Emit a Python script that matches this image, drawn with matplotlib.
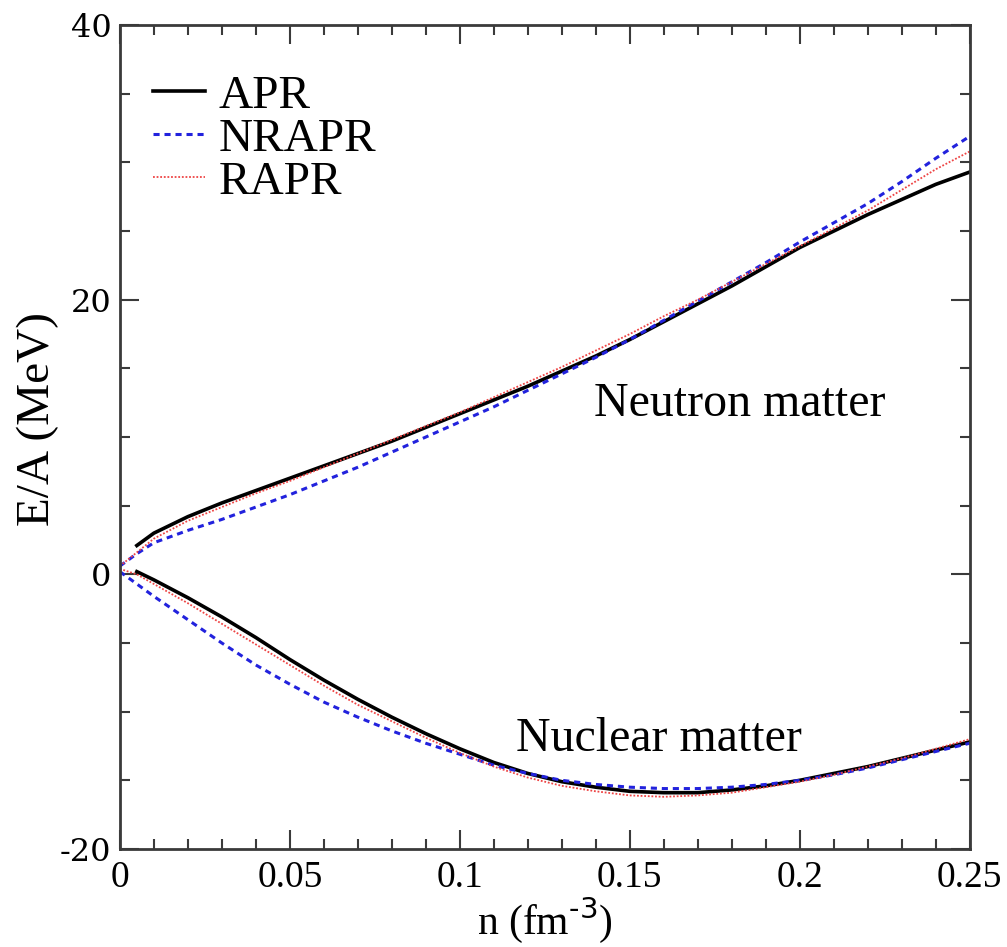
import matplotlib
matplotlib.use("Agg")
import matplotlib.pyplot as plt
from matplotlib.ticker import MultipleLocator

# ---- data ----
n_grid = [0.0, 0.005, 0.01, 0.02, 0.03, 0.04, 0.05, 0.06, 0.07, 0.08, 0.09, 0.10,
          0.11, 0.12, 0.13, 0.14, 0.15, 0.16, 0.17, 0.18, 0.19, 0.20, 0.21, 0.22,
          0.23, 0.24, 0.25]

# Neutron matter
apr_neutron = [None, 2.1, 3.0, 4.2, 5.2, 6.1, 7.0, 7.9, 8.8, 9.7, 10.7, 11.7,
               12.7, 13.7, 14.8, 15.9, 17.1, 18.4, 19.7, 21.0, 22.4, 23.8, 25.0,
               26.2, 27.3, 28.4, 29.3]
nrapr_neutron = [0.6, 1.5, 2.3, 3.2, 4.0, 4.9, 5.8, 6.8, 7.8, 8.9, 10.0, 11.1,
                 12.2, 13.4, 14.6, 15.8, 17.1, 18.5, 19.9, 21.3, 22.7, 24.2, 25.6,
                 27.0, 28.6, 30.3, 31.9]
rapr_neutron = [0.6, 1.6, 2.6, 3.9, 4.9, 5.9, 6.8, 7.8, 8.8, 9.8, 10.8, 11.8,
                12.9, 14.0, 15.1, 16.3, 17.5, 18.8, 20.0, 21.3, 22.6, 23.9, 25.2,
                26.5, 28.0, 29.5, 30.8]

# Nuclear matter
apr_nuclear = [None, 0.2, -0.4, -1.7, -3.1, -4.6, -6.2, -7.7, -9.1, -10.4, -11.6,
               -12.7, -13.7, -14.5, -15.1, -15.5, -15.8, -15.9, -15.9, -15.7, -15.4,
               -15.0, -14.5, -14.0, -13.4, -12.8, -12.2]
nrapr_nuclear = [0.2, -0.7, -1.6, -3.3, -5.0, -6.6, -8.0, -9.3, -10.4, -11.4,
                 -12.3, -13.1, -13.9, -14.5, -15.0, -15.3, -15.5, -15.6, -15.6,
                 -15.5, -15.3, -15.0, -14.6, -14.1, -13.5, -12.9, -12.3]
rapr_nuclear = [0.4, 0.0, -0.7, -2.1, -3.6, -5.1, -6.6, -8.1, -9.5, -10.7, -11.9,
                -13.0, -14.0, -14.8, -15.4, -15.8, -16.1, -16.2, -16.1, -15.9,
                -15.5, -15.1, -14.6, -14.0, -13.4, -12.7, -12.0]

labels = ["APR", "NRAPR", "RAPR"]
x_ticks = [0, 0.05, 0.1, 0.15, 0.2, 0.25]
x_ticklabels = ["0", "0.05", "0.1", "0.15", "0.2", "0.25"]
y_ticks = [-20, 0, 20, 40]
y_ticklabels = ["-20", "0", "20", "40"]


def strip(xs, ys):
    pts = [(x, y) for x, y in zip(xs, ys) if y is not None]
    return [p[0] for p in pts], [p[1] for p in pts]


fig = plt.figure(figsize=(10.07, 9.47), dpi=100)
ax = fig.add_axes([0.119, 0.1035, 0.844, 0.870])

serif = "Liberation Serif"
spine_col = "#3a3a3a"

styles = {
    "APR": dict(color="black", lw=2.6, ls="-"),
    "NRAPR": dict(color="#2222dd", lw=2.2, ls=(0, (2.0, 1.6))),
    "RAPR": dict(color="#ee4444", lw=1.3, ls=(0, (1.0, 1.0))),
}

series = {
    "APR": (apr_neutron, apr_nuclear),
    "NRAPR": (nrapr_neutron, nrapr_nuclear),
    "RAPR": (rapr_neutron, rapr_nuclear),
}

handles = []
for lab in labels:
    neu, nuc = series[lab]
    xs, ys = strip(n_grid, neu)
    h, = ax.plot(xs, ys, label=lab, **styles[lab])
    xs, ys = strip(n_grid, nuc)
    ax.plot(xs, ys, **styles[lab])
    handles.append(h)

ax.set_xlim(0, 0.25)
ax.set_ylim(-20, 40)
ax.set_xticks(x_ticks)
ax.set_xticklabels(x_ticklabels, fontfamily=serif, fontsize=27)
ax.set_yticks(y_ticks)
ax.set_yticklabels(y_ticklabels, fontfamily="DejaVu Serif", fontsize=23)
ax.xaxis.set_minor_locator(MultipleLocator(0.01))
ax.yaxis.set_minor_locator(MultipleLocator(5))
ax.tick_params(which="both", direction="in", top=True, right=True,
               color=spine_col, width=1.5)
ax.tick_params(which="major", length=14)
ax.tick_params(which="minor", length=7)
ax.tick_params(axis="x", which="major", pad=8)
ax.tick_params(axis="y", which="major", pad=6)
for sp in ax.spines.values():
    sp.set_color(spine_col)
    sp.set_linewidth(2.0)

ax.set_xlabel(r"n (fm$^{\text{-3}}$)", fontfamily=serif, fontsize=30, labelpad=0)
ax.set_ylabel("E/A (MeV)", fontfamily=serif, fontsize=34, labelpad=6)
ax.yaxis.set_label_coords(-0.072, 0.522)

ax.text(0.1394, 11.5, "Neutron matter", fontfamily=serif, fontsize=34.5,
        ha="left", va="baseline")
ax.text(0.1165, -12.9, "Nuclear matter", fontfamily=serif, fontsize=34.5,
        ha="left", va="baseline")

leg = ax.legend(handles=handles, loc="upper left", frameon=False,
                prop={"family": serif, "size": 34},
                handlelength=1.1, handletextpad=0.3, labelspacing=0.0,
                borderaxespad=0.3, bbox_to_anchor=(0.0, 0.98))

fig.savefig("out.png", dpi=100)
